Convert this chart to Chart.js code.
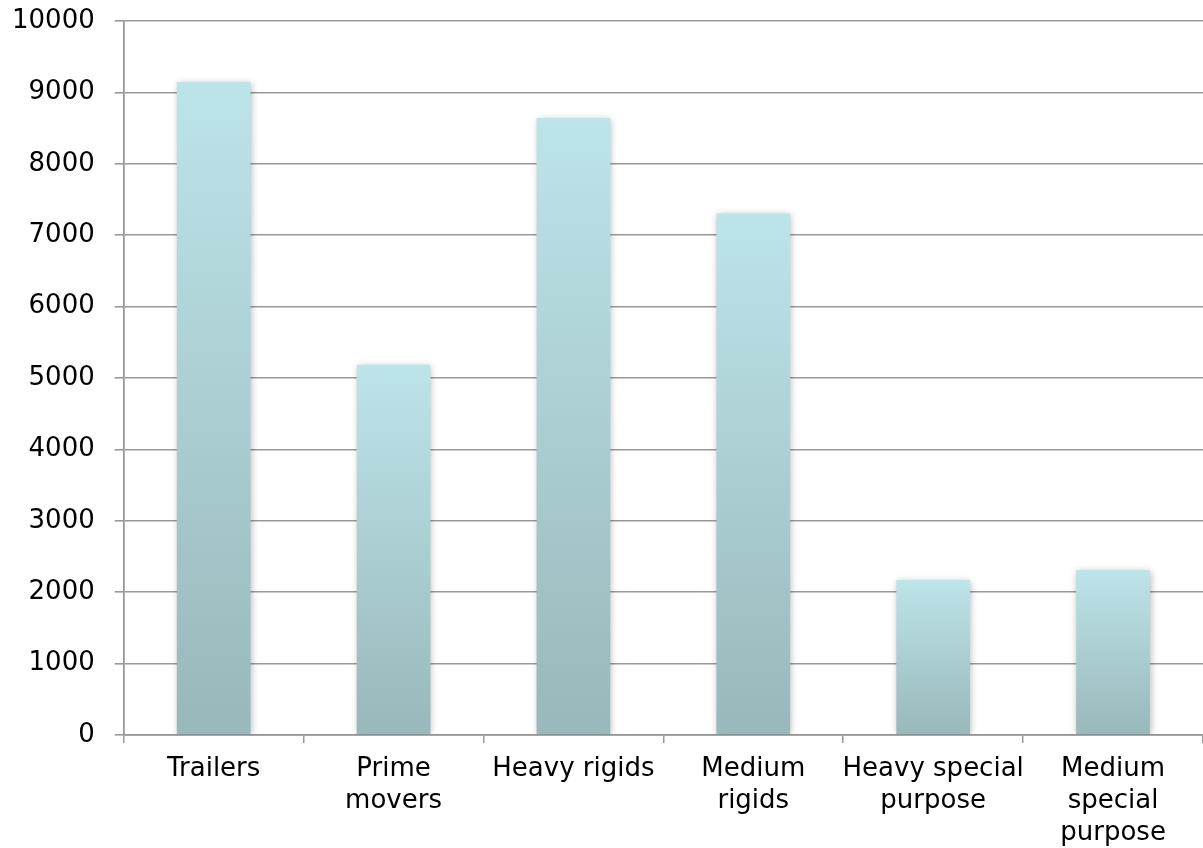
<!DOCTYPE html>
<html>
<head>
<meta charset="utf-8">
<script src="https://cdn.jsdelivr.net/npm/chart.js@4.4.0/dist/chart.umd.min.js"></script>
<style>
html,body{margin:0;padding:0;background:#fff;}
#wrap{width:1203px;height:848px;}
</style>
</head>
<body>
<div id="wrap"><canvas id="c" width="1203" height="848"></canvas></div>
<script>
const categories = [
  "Trailers",
  ["Prime", "movers"],
  "Heavy rigids",
  ["Medium", "rigids"],
  ["Heavy special", "purpose"],
  ["Medium", "special", "purpose"]
];
const vehicleCounts = [9145, 5185, 8640, 7305, 2170, 2310];
const yTicks = [0, 1000, 2000, 3000, 4000, 5000, 6000, 7000, 8000, 9000, 10000];

const shadowPlugin = {
  id: 'barShadow',
  beforeDatasetsDraw(chart) {
    const ctx = chart.ctx;
    ctx.save();
    ctx.shadowColor = 'rgba(0,0,0,0.28)';
    ctx.shadowBlur = 7;
    ctx.shadowOffsetX = 1;
    ctx.shadowOffsetY = 1;
  },
  afterDatasetsDraw(chart) {
    chart.ctx.restore();
  }
};

function barGradient(context) {
  const chart = context.chart;
  const area = chart.chartArea;
  if (!area || context.raw == null) return '#aacfd3';
  const y = chart.scales.y;
  const top = y.getPixelForValue(context.raw);
  const bottom = y.getPixelForValue(0);
  const g = chart.ctx.createLinearGradient(0, top, 0, bottom);
  g.addColorStop(0, '#bde4e9');
  g.addColorStop(1, '#98b8bb');
  return g;
}

new Chart(document.getElementById('c'), {
  type: 'bar',
  data: {
    labels: categories,
    datasets: [{
      data: vehicleCounts,
      backgroundColor: barGradient,
      borderWidth: 0,
      categoryPercentage: 1.0,
      barPercentage: 0.41
    }]
  },
  options: {
    responsive: false,
    animation: false,
    devicePixelRatio: 1,
    layout: { padding: { left: -8, top: 0, right: 0, bottom: -11 } },
    plugins: { legend: { display: false }, tooltip: { enabled: false } },
    scales: {
      x: {
        grid: {
          offset: true,
          drawOnChartArea: false,
          drawTicks: true,
          tickLength: 8,
          color: '#999999',
          lineWidth: 1.5
        },
        border: { display: true, color: '#999999', width: 1.8 },
        ticks: {
          color: '#000000',
          font: { family: 'DejaVu Sans', size: 26, lineHeight: 1.23 },
          padding: 10,
          maxRotation: 0,
          autoSkip: false
        }
      },
      y: {
        min: 0,
        max: 10000,
        afterBuildTicks(axis) { axis.ticks = yTicks.map(v => ({ value: v })); },
        afterFit(scale) { scale.paddingTop = 21; },
        grid: {
          drawTicks: true,
          tickLength: 9,
          color: '#999999',
          lineWidth: 1.6
        },
        border: { display: true, color: '#999999', width: 1.8 },
        ticks: {
          color: '#000000',
          font: { family: 'DejaVu Sans', size: 26 },
          padding: 20,
          callback: v => String(v)
        }
      }
    }
  },
  plugins: [shadowPlugin]
});
</script>
</body>
</html>
